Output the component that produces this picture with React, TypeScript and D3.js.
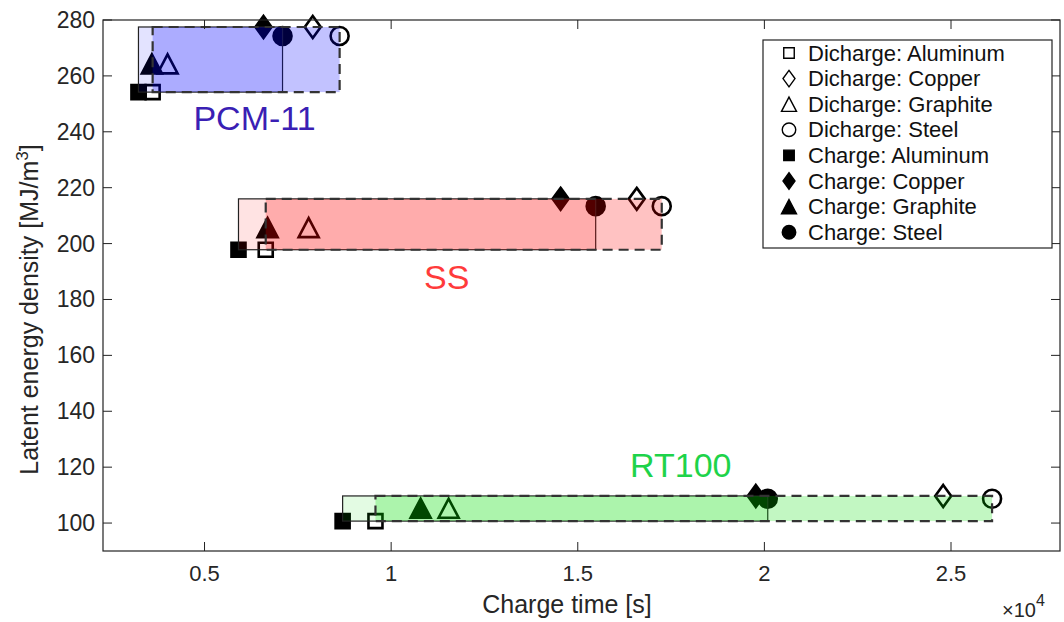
import React from 'react';
import * as d3 from 'd3';

const pcmNames = ['PCM-11', 'SS', 'RT100'];
const pcmFill = ['#0000ff', '#ff0000', '#00dd00'];
const labelColors = ['#3a1fb4', '#ff3b3b', '#1ed34a'];
const materials = ['Aluminum', 'Copper', 'Graphite', 'Steel'];
const shapes = ['square', 'diamond', 'triangle', 'circle'];

// rows = PCM, columns = material
const chargeTime = [
  [3230, 6580, 3590, 7090],
  [5910, 14540, 6690, 15480],
  [8700, 19770, 10790, 20090],
];
const dischargeTime = [
  [3610, 7900, 4010, 8620],
  [6640, 16580, 7790, 17250],
  [9580, 24790, 11540, 26100],
];
const energyDensity = [
  [254.2, 277.5, 264.3, 274.3],
  [197.8, 216.0, 205.7, 213.4],
  [100.7, 109.7, 105.3, 108.7],
];
// where the PCM names sit (data coords)
const labelAt = [
  [6340, 245],
  [11490, 188],
  [17760, 120.7],
];

const xTicks = [5000, 10000, 15000, 20000, 25000];
const yTicks = [100, 120, 140, 160, 180, 200, 220, 240, 260, 280];

const W = 1064;
const H = 622;
const plot = { left: 103, right: 1060, top: 20, bottom: 551 };
const font = "'Liberation Sans', Arial, Helvetica, sans-serif";
const ink = '#262626';

const x = d3.scaleLinear().domain([2280, 27920]).range([plot.left, plot.right]);
const y = d3.scaleLinear().domain([90, 280]).range([plot.bottom, plot.top]);

function markerPath(shape: string, big: boolean) {
  const k = big ? 1 : 0.75;
  if (shape === 'square') {
    const s = 7 * k;
    return `M${-s},${-s}H${s}V${s}H${-s}Z`;
  }
  if (shape === 'diamond') {
    const w = 8 * k, h = 11 * k;
    return `M0,${-h}L${w},0L0,${h}L${-w},0Z`;
  }
  if (shape === 'triangle') {
    const w = 10 * k, h = 9.5 * k;
    return `M0,${-h}L${w},${h}L${-w},${h}Z`;
  }
  const r = 9 * k;
  return `M${r},0A${r},${r} 0 1,1 ${-r},0A${r},${r} 0 1,1 ${r},0Z`;
}

function Marker({ shape, cx, cy, filled, big = true }: any) {
  return (
    <path
      d={markerPath(shape, big)}
      transform={`translate(${cx},${cy})`}
      fill={filled ? '#000' : 'none'}
      stroke="#000"
      strokeWidth={big ? 2.6 : 1.4}
    />
  );
}

export default function App() {
  const legendItems = [
    ...materials.map((m, i) => ({ label: `Dicharge: ${m}`, shape: shapes[i], filled: false })),
    ...materials.map((m, i) => ({ label: `Charge: ${m}`, shape: shapes[i], filled: true })),
  ];

  return (
    <svg width={W} height={H} style={{ position: 'absolute', left: 0, top: 0, background: '#fff' }}>
      <rect x={0} y={0} width={W} height={H} fill="#fff" />

      {pcmNames.map((name, p) => {
        const e = energyDensity[p];
        const c = chargeTime[p];
        const d = dischargeTime[p];
        const y0 = y(d3.max(e)!);
        const y1 = y(d3.min(e)!);
        const cx0 = x(d3.min(c)!), cx1 = x(d3.max(c)!);
        const dx0 = x(d3.min(d)!), dx1 = x(d3.max(d)!);
        return (
          <g key={name}>
            {materials.map((m, i) => (
              <g key={m}>
                <Marker shape={shapes[i]} cx={x(c[i])} cy={y(e[i])} filled />
                <Marker shape={shapes[i]} cx={x(d[i])} cy={y(e[i])} filled={false} />
              </g>
            ))}
            <rect x={cx0} y={y0} width={cx1 - cx0} height={y1 - y0}
              fill={pcmFill[p]} fillOpacity={0.11} stroke="#222" strokeWidth={1.2} />
            <rect x={dx0} y={y0} width={dx1 - dx0} height={y1 - y0}
              fill={pcmFill[p]} fillOpacity={0.24} stroke="#333" strokeWidth={2.2} strokeDasharray="10 6" />
            <text x={x(labelAt[p][0])} y={y(labelAt[p][1])} textAnchor="middle" dominantBaseline="central"
              fontFamily={font} fontSize={34} fill={labelColors[p]}>{name}</text>
          </g>
        );
      })}

      {/* frame and ticks */}
      <rect x={plot.left} y={plot.top} width={plot.right - plot.left} height={plot.bottom - plot.top}
        fill="none" stroke="#222" strokeWidth={1.2} />
      {xTicks.map(t => (
        <g key={t}>
          <line x1={x(t)} x2={x(t)} y1={plot.bottom} y2={plot.bottom - 9} stroke="#222" />
          <line x1={x(t)} x2={x(t)} y1={plot.top} y2={plot.top + 9} stroke="#222" />
          <text x={x(t)} y={plot.bottom + 30} textAnchor="middle" fontFamily={font} fontSize={22} fill={ink}>
            {d3.format('~g')(t / 10000)}
          </text>
        </g>
      ))}
      {yTicks.map(t => (
        <g key={t}>
          <line x1={plot.left} x2={plot.left + 9} y1={y(t)} y2={y(t)} stroke="#222" />
          <line x1={plot.right} x2={plot.right - 9} y1={y(t)} y2={y(t)} stroke="#222" />
          <text x={plot.left - 8} y={y(t)} textAnchor="end" dominantBaseline="central" fontFamily={font} fontSize={23} fill={ink}>
            {t}
          </text>
        </g>
      ))}

      <text x={567} y={613} textAnchor="middle" fontFamily={font} fontSize={25} fill={ink}>Charge time [s]</text>
      <text x={1002} y={617} fontFamily={font} fontSize={20} fill={ink}>
        ×10<tspan dy={-11} fontSize={16}>4</tspan>
      </text>
      <text transform={`translate(38,${(plot.top + plot.bottom) / 2 + 24}) rotate(-90)`} textAnchor="middle"
        fontFamily={font} fontSize={25} fill={ink}>
        Latent energy density [MJ/m<tspan dy={-10} fontSize={17}>3</tspan><tspan dy={10}>]</tspan>
      </text>

      {/* legend */}
      <rect x={763} y={40} width={289} height={208} fill="#fff" stroke="#222" strokeWidth={1.2} />
      {legendItems.map((it, i) => {
        const ly = 53 + i * 25.6;
        return (
          <g key={it.label}>
            <Marker shape={it.shape} cx={789} cy={ly} filled={it.filled} big={false} />
            <text x={808} y={ly} dominantBaseline="central" fontFamily={font} fontSize={22} fill="#111">{it.label}</text>
          </g>
        );
      })}
    </svg>
  );
}
